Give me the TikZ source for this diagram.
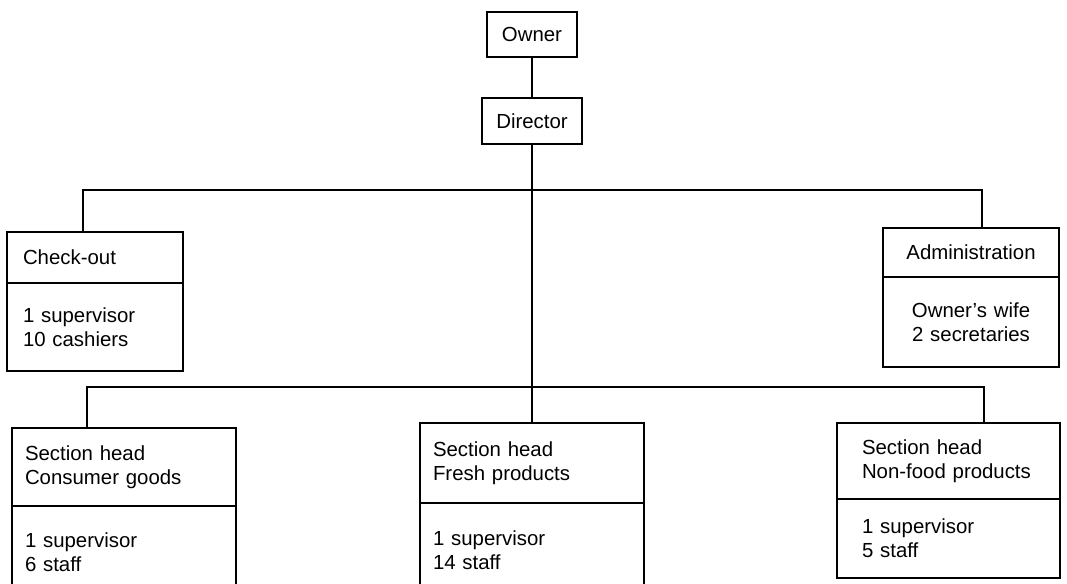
\documentclass[tikz,border=0pt]{standalone}
\usepackage{fontspec}
\setmainfont{Liberation Sans}
\usetikzlibrary{positioning}
\tikzset{
  box/.style={draw,line width=1.2pt,outer sep=0pt,inner ysep=0pt,font=\fontsize{14.5}{17}\selectfont},
  title/.style={box,anchor=north,inner xsep=0pt},
  cell/.style={box,align=left,text width=#1},
  link/.style={line width=1.2pt},
}
\begin{document}
\begin{tikzpicture}[x=0.025cm,y=-0.025cm]
\useasboundingbox (0,0) rectangle (1067,584);
% top of the chart
\node[title,minimum width=2.25cm,minimum height=1.125cm] (own) at (532,12) {Owner};
\node[title,minimum width=2.5cm,minimum height=1.15cm] (dir) at (532,98) {Director};
\coordinate (busA) at (532,190);
\coordinate (busB) at (532,387);
% first row
\node[cell=3.6cm,inner xsep=0.4cm,anchor=north west,minimum height=1.275cm] (chk) at (7,232) {Check-out};
\node[cell=3.6cm,inner xsep=0.4cm,minimum height=2.2cm,below=0pt of chk] (chkb) {1 supervisor\\10 cashiers};
\node[cell=3.6cm,align=center,inner xsep=0.4cm,anchor=north west,minimum height=1.225cm] (adm) at (883,228) {Administration};
\node[cell=3.6cm,align=center,inner xsep=0.4cm,minimum height=2.25cm,below=0pt of adm] (admb) {Owner's wife\\2 secretaries};
% section heads
\node[cell=4.95cm,inner xsep=0.325cm,anchor=north west,minimum height=1.95cm] (sec1) at (12,428) {Section head\\Consumer goods};
\node[cell=4.95cm,inner xsep=0.325cm,minimum height=2.3cm,below=0pt of sec1] (sec1b) {1 supervisor\\6 staff};
\node[cell=4.95cm,inner xsep=0.325cm,anchor=north west,minimum height=2cm] (sec2) at (420,423) {Section head\\Fresh products};
\node[cell=4.95cm,inner xsep=0.325cm,minimum height=2.35cm,below=0pt of sec2] (sec2b) {1 supervisor\\14 staff};
\node[cell=4.325cm,inner xsep=0.625cm,anchor=north west,minimum height=1.9cm] (sec3) at (837,423) {Section head\\Non-food products};
\node[cell=4.325cm,inner xsep=0.625cm,minimum height=1.975cm,below=0pt of sec3] (sec3b) {1 supervisor\\5 staff};
% connectors
\draw[link] (own) -- (dir);
\draw[link] (dir) -- (sec2);
\draw[link] ([xshift=-0.3cm]chk.north) |- (busA) -| ([xshift=0.275cm]adm.north);
\draw[link] ([xshift=-0.925cm]sec1.north) |- (busB) -| ([xshift=0.8875cm]sec3.north);
\end{tikzpicture}
\end{document}
